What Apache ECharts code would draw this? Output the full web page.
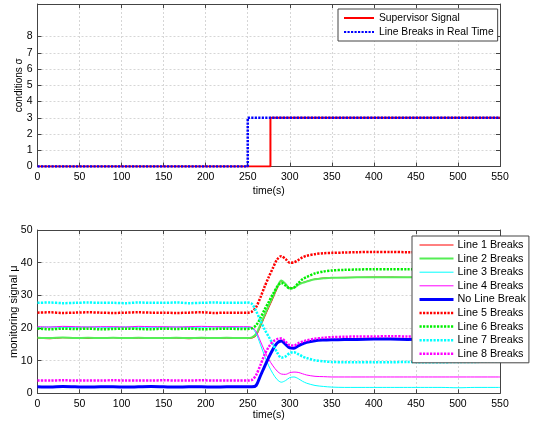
<!DOCTYPE html>
<html>
<head>
<meta charset="utf-8">
<script src="https://cdn.jsdelivr.net/npm/echarts@6/dist/echarts.min.js"></script>
<style>
html, body { margin: 0; padding: 0; background: #fff; }
#chart { width: 557px; height: 426px; }
</style>
</head>
<body>
<div id="chart"></div>
<script>
// top panel: conditions sigma (step signals)
const supervisorTimes = [0, 277, 550]
const supervisorValues = [0, 3, 3]
const realTimeTimes = [0, 250, 550]
const realTimeValues = [0, 3, 3]
const sigmaTicks = [0, 1, 2, 3, 4, 5, 6, 7, 8]

// bottom panel: monitoring signal mu
const times = [0, 15, 30, 45, 60, 75, 90, 105, 120, 135, 150, 165, 180, 195, 210, 225, 240,
  250, 255, 260, 265, 270, 275, 280, 285, 290, 295, 300, 305, 310, 315, 320,
  330, 340, 350, 365, 380, 400, 420, 440, 460, 480, 500, 520, 535, 550]

const line1 = [16.9, 16.7, 17.0, 16.9, 16.8, 16.9, 17.0, 16.8, 16.9, 16.8, 16.9, 16.9, 16.7, 16.9, 16.8, 16.9, 16.8,
  16.8, 16.9, 17.6, 20.3, 23.3, 26.2, 29.0, 32.0, 34.3, 33.6, 32.3, 32.4, 33.3, 33.9, 34.3,
  35.0, 35.3, 35.4, 35.5, 35.5, 35.6, 35.6, 35.5, 35.6, 35.5, 35.5, 35.4, 35.4, 35.3]
const line2 = [17.0, 16.9, 17.1, 16.9, 17.0, 16.9, 17.0, 16.9, 17.0, 16.9, 16.9, 17.0, 16.9, 17.0, 16.9, 17.0, 16.9,
  16.9, 17.1, 18.2, 21.0, 24.0, 26.9, 29.7, 32.6, 34.5, 33.5, 32.1, 32.3, 33.2, 33.8, 34.2,
  34.9, 35.2, 35.4, 35.4, 35.5, 35.5, 35.5, 35.5, 35.5, 35.5, 35.5, 35.4, 35.4, 35.4]
const line3 = [20.2, 20.3, 20.2, 20.2, 20.3, 20.2, 20.2, 20.3, 20.2, 20.2, 20.2, 20.3, 20.2, 20.2, 20.3, 20.2, 20.2,
  20.2, 20.0, 18.3, 15.0, 11.5, 8.4, 6.0, 4.2, 3.4, 3.9, 4.8, 5.0, 4.5, 3.7, 3.1,
  2.4, 2.1, 1.9, 1.8, 1.8, 1.8, 1.8, 1.8, 1.8, 1.8, 1.7, 1.8, 1.8, 1.8]
const line4 = [20.4, 20.3, 20.5, 20.4, 20.3, 20.4, 20.4, 20.3, 20.5, 20.4, 20.4, 20.3, 20.4, 20.5, 20.4, 20.4, 20.4,
  20.4, 20.2, 18.9, 16.0, 13.0, 10.4, 8.4, 6.8, 5.9, 5.8, 6.3, 6.5, 6.4, 6.0, 5.6,
  5.2, 5.1, 5.0, 5.0, 5.0, 5.0, 5.0, 5.0, 5.0, 5.0, 5.0, 5.0, 5.0, 5.0]
const noBreak = [2.0, 1.9, 2.1, 2.0, 1.9, 2.0, 2.0, 1.9, 2.0, 2.1, 2.0, 1.9, 2.0, 2.0, 1.9, 2.0, 2.0,
  2.0, 2.0, 2.4, 5.3, 8.2, 11.0, 13.5, 15.4, 16.0, 15.0, 13.9, 13.8, 14.5, 15.1, 15.6,
  16.1, 16.3, 16.4, 16.5, 16.5, 16.6, 16.6, 16.5, 16.6, 16.6, 16.6, 16.6, 16.6, 16.6]
const line5 = [24.7, 24.8, 24.6, 24.7, 24.8, 24.7, 24.6, 24.7, 24.8, 24.7, 24.7, 24.6, 24.7, 24.8, 24.6, 24.7, 24.7,
  24.7, 25.0, 26.4, 29.3, 32.6, 35.6, 38.4, 41.0, 42.0, 41.1, 40.0, 40.1, 40.8, 41.6, 42.1,
  42.6, 42.9, 43.0, 43.1, 43.2, 43.3, 43.3, 43.2, 43.3, 43.3, 43.3, 43.3, 43.3, 43.3]
const line6 = [19.8, 19.6, 19.8, 19.7, 19.8, 19.6, 19.7, 19.8, 19.7, 19.6, 19.8, 19.7, 19.8, 19.6, 19.7, 19.8, 19.7,
  19.7, 19.9, 20.8, 23.0, 25.6, 28.0, 30.4, 32.6, 33.8, 33.0, 32.1, 32.4, 33.7, 34.9, 35.6,
  36.7, 37.3, 37.6, 37.8, 37.9, 38.0, 38.0, 38.0, 37.9, 38.0, 38.0, 38.0, 38.1, 38.1]
const line7 = [27.7, 27.8, 27.6, 27.7, 27.8, 27.7, 27.7, 27.6, 27.8, 27.7, 27.7, 27.8, 27.6, 27.7, 27.8, 27.7, 27.7,
  27.8, 27.4, 25.2, 22.3, 19.6, 17.3, 15.0, 12.5, 10.9, 11.3, 12.3, 12.6, 12.0, 11.3, 10.8,
  10.1, 9.8, 9.6, 9.5, 9.5, 9.5, 9.5, 9.6, 9.5, 9.5, 9.6, 9.6, 9.7, 9.7]
const line8 = [3.9, 3.9, 4.0, 3.9, 3.9, 3.9, 4.0, 3.9, 3.9, 3.9, 4.0, 3.9, 3.9, 4.0, 3.9, 3.9, 3.9,
  3.9, 4.1, 5.6, 8.6, 11.8, 14.2, 15.8, 16.6, 16.8, 15.8, 14.7, 14.6, 15.3, 15.8, 16.2,
  16.7, 17.0, 17.2, 17.3, 17.4, 17.4, 17.5, 17.4, 17.5, 17.5, 17.5, 17.5, 17.5, 17.5]

const FONT = '"Liberation Sans", Arial, sans-serif'
const AXIS_COLOR = '#444'
const DOT = [2.2, 1.3]

const pairs = (xs, ys) => xs.map((x, i) => [x, ys[i]])

const txt = (size) => ({ fontFamily: FONT, fontSize: size, color: '#000' })

// main x axis (bottom) with labels
const timeAxis = (gridIndex, gap) => ({
  type: 'value', gridIndex, position: 'bottom',
  min: 0, max: 550, interval: 50,
  name: 'time(s)', nameLocation: 'middle', nameGap: gap, nameMoveOverlap: false,
  nameTextStyle: txt(10.5),
  axisLine: { onZero: false, lineStyle: { color: AXIS_COLOR } },
  axisTick: { inside: true, length: 4, lineStyle: { color: AXIS_COLOR } },
  axisLabel: Object.assign({ margin: 5 }, txt(10.5)),
  splitLine: { show: true, lineStyle: { color: '#d6d6d6', type: [2, 2] } }
})
// plain frame axis (top / right), ticks only
const frameX = (gridIndex) => ({
  type: 'value', gridIndex, position: 'top', min: 0, max: 550, interval: 50,
  axisLine: { onZero: false, lineStyle: { color: AXIS_COLOR } },
  axisTick: { inside: true, length: 4, lineStyle: { color: AXIS_COLOR } },
  axisLabel: { show: false }, splitLine: { show: false }
})
const frameY = (gridIndex, max, interval, ticks) => ({
  type: 'value', gridIndex, position: 'right', min: 0, max, interval,
  axisLine: { onZero: false, lineStyle: { color: AXIS_COLOR } },
  axisTick: { inside: true, length: 4, lineStyle: { color: AXIS_COLOR }, customValues: ticks },
  axisLabel: { show: false }, splitLine: { show: false }
})

const series = [
  { name: 'Supervisor Signal', type: 'line', xAxisIndex: 0, yAxisIndex: 0, step: 'end',
    data: pairs(supervisorTimes, supervisorValues), symbol: 'none',
    lineStyle: { color: '#ff0000', width: 2 }, itemStyle: { color: '#ff0000' } },
  { name: 'Line Breaks in Real Time', type: 'line', xAxisIndex: 0, yAxisIndex: 0, step: 'end',
    data: pairs(realTimeTimes, realTimeValues), symbol: 'none',
    lineStyle: { color: '#0000ff', width: 2.5, type: DOT }, itemStyle: { color: '#0000ff' } }
]

const muLines = [
  ['Line 1 Breaks', line1, '#ff0000', 1, 'solid'],
  ['Line 2 Breaks', line2, '#55ee55', 2, 'solid'],
  ['Line 3 Breaks', line3, '#00ffff', 1, 'solid'],
  ['Line 4 Breaks', line4, '#ff00ff', 1, 'solid'],
  ['No Line Break', noBreak, '#0000ff', 3, 'solid'],
  ['Line 5 Breaks', line5, '#ff0000', 2.5, DOT],
  ['Line 6 Breaks', line6, '#00ee00', 2.5, DOT],
  ['Line 7 Breaks', line7, '#00ffff', 2.5, DOT],
  ['Line 8 Breaks', line8, '#ff00ff', 2.5, DOT]
]
muLines.forEach(([name, vals, color, width, type]) => {
  series.push({
    name, type: 'line', xAxisIndex: 2, yAxisIndex: 2,
    data: pairs(times, vals), symbol: 'none', smooth: 0.3,
    lineStyle: { color, width, type }, itemStyle: { color }
  })
})

const legendBase = {
  orient: 'vertical', backgroundColor: '#fff', borderColor: '#444', borderWidth: 1,
  borderRadius: 0, itemHeight: 12, itemGap: 1.6, itemWidth: 34, inactiveColor: '#ccc',
  itemStyle: { opacity: 0 },
  textStyle: Object.assign({ lineHeight: 12, padding: [0, 0, 0, -1] }, txt(10.8))
}

const option = {
  animation: false,
  backgroundColor: '#fff',
  grid: [
    { left: 37.5, top: 4, width: 462.5, height: 162.5, outerBoundsMode: 'none', containLabel: false },
    { left: 37.5, top: 230, width: 462.5, height: 163.3, outerBoundsMode: 'none', containLabel: false }
  ],
  xAxis: [timeAxis(0, 19), frameX(0), timeAxis(1, 16), frameX(1)],
  yAxis: [
    {
      type: 'value', gridIndex: 0, min: 0, max: 10, interval: 1,
      name: 'conditions σ', nameLocation: 'middle', nameGap: 13, nameMoveOverlap: false,
      nameTextStyle: txt(10),
      axisLine: { onZero: false, lineStyle: { color: AXIS_COLOR } },
      axisTick: { inside: true, length: 4, lineStyle: { color: AXIS_COLOR }, customValues: sigmaTicks },
      axisLabel: Object.assign({ margin: 5, customValues: sigmaTicks }, txt(10.5)),
      splitLine: { show: true, lineStyle: { color: '#d6d6d6', type: [2, 2] } }
    },
    frameY(0, 10, 1, sigmaTicks),
    {
      type: 'value', gridIndex: 1, min: 0, max: 50, interval: 10,
      name: 'monitoring signal μ', nameLocation: 'middle', nameGap: 18, nameMoveOverlap: false,
      nameTextStyle: txt(11),
      axisLine: { onZero: false, lineStyle: { color: AXIS_COLOR } },
      axisTick: { inside: true, length: 4, lineStyle: { color: AXIS_COLOR } },
      axisLabel: Object.assign({ margin: 5 }, txt(10.5)),
      splitLine: { show: true, lineStyle: { color: '#d6d6d6', type: [2, 2] } }
    },
    frameY(1, 50, 10)
  ],
  legend: [
    Object.assign({}, legendBase, {
      left: 338, top: 9, itemWidth: 30, itemGap: 2, padding: [3, 4, 3, 5],
      textStyle: Object.assign({ lineHeight: 12 }, txt(10.3)),
      data: ['Supervisor Signal', 'Line Breaks in Real Time']
    }),
    Object.assign({}, legendBase, {
      left: 412, top: 236, padding: [3, 3, 3, 6],
      // sample thickness follows each series' own line width
      data: muLines.map(l => ({ name: l[0], lineStyle: { width: l[3] } }))
    })
  ],
  series
}

const myChart = echarts.init(document.getElementById('chart'))
myChart.setOption(option)
window.addEventListener('resize', () => {
  myChart?.resize()
})
</script>
</body>
</html>
